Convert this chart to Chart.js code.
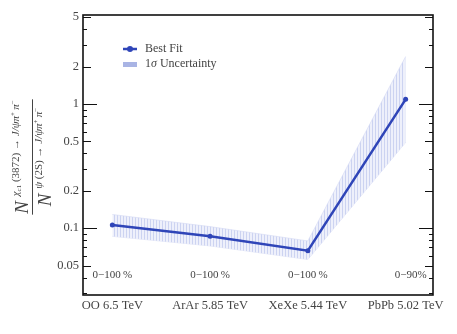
<!DOCTYPE html>
<html>
<head>
<meta charset="utf-8">
<script src="https://cdn.jsdelivr.net/npm/chart.js@4.4.1/dist/chart.umd.min.js"></script>
<style>
  html, body { margin: 0; padding: 0; background: #fff; }
  #wrap { width: 457px; height: 334px; }
</style>
</head>
<body>
<div id="wrap"><canvas id="myChart" width="457" height="334"></canvas></div>
<script>
// chart data
const categories = ['OO 6.5 TeV', 'ArAr 5.85 TeV', 'XeXe 5.44 TeV', 'PbPb 5.02 TeV'];
const centrality = ['0\u2212100\u2009%', '0\u2212100\u2009%', '0\u2212100\u2009%', '0\u221290%'];
const bestFit = [0.106, 0.086, 0.066, 1.09];
const bandUpper = [0.129, 0.103, 0.079, 2.41];
const bandLower = [0.086, 0.072, 0.056, 0.49];
const yTickLabels = [0.05, 0.1, 0.2, 0.5, 1, 2, 5];
const yMinorTicks = [0.03, 0.04, 0.06, 0.07, 0.08, 0.09, 0.3, 0.4, 0.6, 0.7, 0.8, 0.9, 3, 4];
const yLongTicks = [0.1, 1];

const SERIF = "'Liberation Serif', 'DejaVu Serif', serif";
const LINE = '#2f45b8';

// hatched fill for the 1 sigma band
function hatch() {
  const c = document.createElement('canvas');
  c.width = 3; c.height = 4;
  const g = c.getContext('2d');
  g.fillStyle = '#eef0fb';
  g.fillRect(0, 0, 3, 4);
  g.fillStyle = '#ccd3f1';
  g.fillRect(0, 0, 1, 4);
  return g.createPattern(c, 'repeat');
}

const toPts = arr => arr.map((v, i) => ({ x: i, y: v }));

function drawRuns(ctx, runs, v) {
  let w = 0;
  runs.forEach(r => { ctx.font = r.f; w += ctx.measureText(r.t).width; });
  let u = -w / 2;
  runs.forEach(r => {
    ctx.font = r.f;
    ctx.fillText(r.t, u, v + (r.dy || 0));
    u += ctx.measureText(r.t).width;
  });
  return w;
}

const framePlugin = {
  id: 'frame',
  afterDraw(chart) {
    const ctx = chart.ctx;
    const a = chart.chartArea;
    const y = chart.scales.y;
    const x = chart.scales.x;
    ctx.save();

    // ticks, inward on left and right
    ctx.strokeStyle = '#111';
    ctx.lineWidth = 1.2;
    const tick = (val, len) => {
      const py = Math.round(y.getPixelForValue(val)) + 0.5;
      ctx.beginPath();
      ctx.moveTo(a.left, py); ctx.lineTo(a.left + len, py);
      ctx.moveTo(a.right, py); ctx.lineTo(a.right - len, py);
      ctx.stroke();
    };
    yMinorTicks.forEach(v => tick(v, 4));
    yTickLabels.forEach(v => tick(v, yLongTicks.includes(v) ? 14 : 8));

    // frame
    ctx.lineWidth = 1.6;
    ctx.strokeRect(a.left, a.top, a.right - a.left, a.bottom - a.top);

    // centrality labels
    ctx.fillStyle = '#444';
    ctx.font = '11px ' + SERIF;
    ctx.textAlign = 'center';
    ctx.textBaseline = 'middle';
    centrality.forEach((t, i) => {
      const px = x.getPixelForValue(i) + (i === 3 ? 5 : 0);
      ctx.fillText(t, px, 275);
    });

    // legend
    ctx.strokeStyle = LINE;
    ctx.lineWidth = 2.5;
    ctx.beginPath(); ctx.moveTo(123, 49); ctx.lineTo(137, 49); ctx.stroke();
    ctx.fillStyle = LINE;
    ctx.beginPath(); ctx.arc(130, 49, 3, 0, Math.PI * 2); ctx.fill();
    ctx.fillStyle = '#a9b4e4';
    ctx.fillRect(123, 62, 14, 5);
    ctx.fillStyle = '#444';
    ctx.textAlign = 'left';
    ctx.font = '12px ' + SERIF;
    ctx.fillText('Best Fit', 145, 49);
    ctx.fillText('1', 145, 64);
    let w1 = ctx.measureText('1').width;
    ctx.font = 'italic 12px ' + SERIF;
    ctx.fillText('\u03c3', 145 + w1, 64);
    let w2 = ctx.measureText('\u03c3 ').width;
    ctx.font = '12px ' + SERIF;
    ctx.fillText('Uncertainty', 145 + w1 + w2, 64);

    // y title (fraction), rotated
    ctx.translate(32, 157);
    ctx.rotate(-Math.PI / 2);
    ctx.textAlign = 'left';
    ctx.textBaseline = 'alphabetic';
    ctx.fillStyle = '#444';
    const big = 'italic 19px ' + SERIF;
    const sup = 'italic 11px ' + SERIF;
    const supR = '11px ' + SERIF;
    const tiny = '7px ' + SERIF;
    const tail = [
      { t: 'J/\u03c8\u03c0', f: sup, dy: -9 },
      { t: '+', f: tiny, dy: -13 },
      { t: '\u2009\u03c0', f: sup, dy: -9 },
      { t: '\u2212', f: tiny, dy: -13 }
    ];
    const num = [
      { t: 'N ', f: big },
      { t: '\u03c7', f: sup, dy: -9 },
      { t: 'c1', f: '7px ' + SERIF, dy: -7 },
      { t: ' (3872) \u2192 ', f: supR, dy: -9 }
    ].concat(tail);
    const den = [
      { t: 'N ', f: big },
      { t: '\u03c8', f: sup, dy: -9 },
      { t: ' (2S) \u2192 ', f: supR, dy: -9 }
    ].concat(tail);
    const wn = drawRuns(ctx, num, -4);
    drawRuns(ctx, den, 19);
    ctx.strokeStyle = '#444';
    ctx.lineWidth = 1;
    ctx.beginPath(); ctx.moveTo(-wn / 2 - 1, 0.5); ctx.lineTo(wn / 2 + 1, 0.5); ctx.stroke();

    ctx.restore();
  }
};

new Chart(document.getElementById('myChart').getContext('2d'), {
  type: 'line',
  data: {
    datasets: [
      {
        label: 'Best Fit',
        data: toPts(bestFit),
        borderColor: LINE,
        backgroundColor: LINE,
        borderWidth: 2.5,
        pointRadius: 2.5,
        pointBorderWidth: 0,
        fill: false,
        tension: 0
      },
      {
        label: 'upper',
        data: toPts(bandUpper),
        borderWidth: 0.6,
        borderColor: '#d3d9f3',
        pointRadius: 0,
        fill: '+1',
        backgroundColor: hatch(),
        tension: 0
      },
      {
        label: 'lower',
        data: toPts(bandLower),
        borderWidth: 0.6,
        borderColor: '#d3d9f3',
        pointRadius: 0,
        fill: false,
        tension: 0
      }
    ]
  },
  options: {
    responsive: false,
    animation: false,
    layout: { padding: { top: 15, right: 24, left: 0, bottom: 0 } },
    plugins: { legend: { display: false }, tooltip: { enabled: false } },
    scales: {
      x: {
        type: 'linear',
        min: -0.3,
        max: 3.28,
        grid: { display: false, drawTicks: false },
        border: { display: false },
        afterBuildTicks: s => { s.ticks = categories.map((c, i) => ({ value: i })); },
        afterFit: s => { s.height = 39; },
        ticks: {
          callback: v => categories[v],
          autoSkip: false,
          maxRotation: 0,
          padding: 3,
          color: '#444',
          font: { family: SERIF, size: 12.5 }
        }
      },
      y: {
        type: 'logarithmic',
        min: 0.029,
        max: 5.2,
        grid: { display: false, drawTicks: false },
        border: { display: false },
        afterBuildTicks: s => { s.ticks = yTickLabels.map(v => ({ value: v })); },
        afterFit: s => { s.width = 83; },
        ticks: {
          callback: v => String(v),
          padding: 4,
          color: '#444',
          font: { family: SERIF, size: 12.5 }
        }
      }
    }
  },
  plugins: [framePlugin]
});
</script>
</body>
</html>
